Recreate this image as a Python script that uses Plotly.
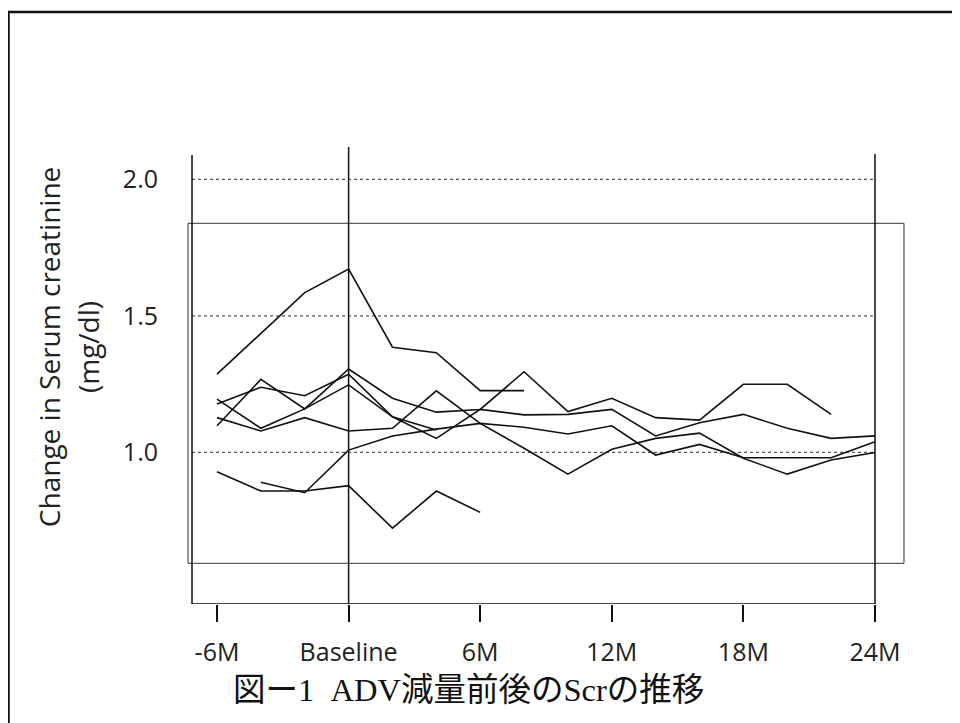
import plotly.graph_objects as go

months = [-6, -4, -2, 0, 2, 4, 6, 8, 10, 12, 14, 16, 18, 20, 22, 24]
tick_vals = [-6, 0, 6, 12, 18, 24]
tick_text = ["-6M", "Baseline", "6M", "12M", "18M", "24M"]
y_tick_vals = [1.0, 1.5, 2.0]
y_tick_text = ["1.0", "1.5", "2.0"]

N = None
pt1 = [1.286, 1.436, 1.585, 1.671, 1.385, 1.365, 1.226, 1.226, N, N, N, N, N, N, N, N]
pt2 = [0.929, 0.858, 0.858, 0.878, 0.722, 0.858, 0.780, N, N, N, N, N, N, N, N, N]
pt3 = [N, 0.890, 0.852, 1.008, 1.060, 1.085, 1.106, 1.092, 1.067, 1.097, 0.990, 1.029, 0.980, 0.980, 0.980, 1.039]
pt4 = [1.127, 1.078, 1.127, 1.078, 1.088, 1.225, 1.106, 1.015, 0.920, 1.011, 1.051, 1.070, 0.978, 0.920, 0.972, 0.999]
pt5 = [1.097, 1.267, 1.159, 1.305, 1.198, 1.147, 1.157, 1.295, 1.149, 1.198, 1.127, 1.118, 1.249, 1.249, 1.139, N]
pt6 = [1.177, 1.238, 1.207, 1.286, 1.130, 1.051, 1.157, 1.137, 1.139, 1.157, 1.060, 1.108, 1.139, 1.088, 1.051, 1.060]
pt7 = [1.195, 1.088, 1.159, 1.247, 1.130, 1.082, N, N, N, N, N, N, N, N, N, N]
patients = [pt1, pt2, pt3, pt4, pt5, pt6, pt7]

fig = go.Figure()
for p in patients:
    fig.add_trace(go.Scatter(x=months, y=p, mode="lines", connectgaps=False,
                             line=dict(color="#111111", width=1.6),
                             showlegend=False, hoverinfo="skip"))

# frame geometry (axis units)
X_AX = -7.14      # y-axis line position
Y_BOT = 0.4443    # x-axis line position
x_rng = [-7.414, 25.414]
y_rng = [Y_BOT, 2.1256]

shapes = []
for v in y_tick_vals:
    shapes.append(dict(type="line", xref="x", yref="y", x0=X_AX, x1=24, y0=v, y1=v,
                       line=dict(color="#555555", width=1.2, dash="dot"), layer="below"))
shapes.append(dict(type="rect", xref="x", yref="y", x0=-7.322, x1=25.322, y0=0.5934, y1=1.8388,
                   line=dict(color="#333333", width=1), layer="below"))
shapes.append(dict(type="line", xref="x", yref="y", x0=X_AX, x1=X_AX, y0=Y_BOT, y1=2.089,
                   line=dict(color="#111111", width=1.5)))
shapes.append(dict(type="line", xref="x", yref="y", x0=X_AX, x1=24, y0=Y_BOT, y1=Y_BOT,
                   line=dict(color="#111111", width=1.5)))
shapes.append(dict(type="line", xref="x", yref="y", x0=0, x1=0, y0=Y_BOT, y1=2.118,
                   line=dict(color="#111111", width=1.5)))
shapes.append(dict(type="line", xref="x", yref="y", x0=24, x1=24, y0=Y_BOT, y1=2.093,
                   line=dict(color="#111111", width=1.5)))
# outer border
shapes.append(dict(type="rect", xref="paper", yref="paper", x0=-0.2465, x1=1.068, y0=-0.30, y1=1.2898,
                   line=dict(color="#111111", width=2.5)))

FONT = "Open Sans"
annotations = [
    dict(text="Change in Serum creatinine", xref="paper", yref="paper", x=-0.190, y=0.56,
         textangle=-90, showarrow=False, xanchor="center", yanchor="middle",
         font=dict(family=FONT, size=28, color="#222222")),
    dict(text="(mg/dl)", xref="paper", yref="paper", x=-0.136, y=0.56,
         textangle=-90, showarrow=False, xanchor="center", yanchor="middle",
         font=dict(family=FONT, size=28, color="#222222")),
    dict(text="図ー1\u2002ADV減量前後のScrの推移", xref="paper", yref="paper", x=0.063, y=-0.187,
         showarrow=False, xanchor="left", yanchor="middle",
         font=dict(family="Liberation Serif, Noto Sans CJK JP", size=32.5, color="#111111")),
]

fig.update_layout(
    width=952, height=715,
    margin=dict(l=178, r=54, t=137, b=119),
    paper_bgcolor="white", plot_bgcolor="white",
    shapes=shapes, annotations=annotations,
    xaxis=dict(range=x_rng, tickvals=tick_vals, ticktext=tick_text, showgrid=False, zeroline=False,
               showline=False, ticks="outside", ticklen=17, tickwidth=1.5, tickcolor="#111111",
               ticklabelstandoff=9,
               tickfont=dict(family=FONT, size=25, color="#222222")),
    yaxis=dict(range=y_rng, tickvals=y_tick_vals, ticktext=y_tick_text, showgrid=False, zeroline=False,
               showline=False, ticks="", ticklabelstandoff=27,
               tickfont=dict(family=FONT, size=25, color="#222222")),
)

fig.write_html("out.html")
